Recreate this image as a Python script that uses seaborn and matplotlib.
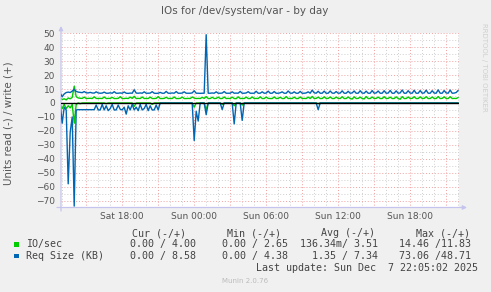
import numpy as np
import pandas as pd
import matplotlib
matplotlib.use("Agg")
import matplotlib.pyplot as plt
from matplotlib.patches import Rectangle
from matplotlib.ticker import FixedLocator, FixedFormatter
import seaborn as sns

# ---------------- data (10-minute samples, hours since Sat 00:00) ----------------
start_hour = 12 + 50 / 60.0        # Sat 12:50
step_hour = 10 / 60.0

io_write = [
    3.5, 2.5, 3.0, 2.2, 3.6, 3.0, 4.0, 12.0, 4.5, 3.6, 3.4, 3.3, 4.2, 3.2, 3.3, 3.4, 3.2, 4.4, 3.3, 3.2,
    3.3, 3.2, 4.3, 3.2, 3.3, 3.3, 4.0, 3.2, 3.2, 3.3, 4.5, 3.2, 3.2, 3.4, 3.2, 4.2, 3.3, 4.8, 3.2, 3.3,
    3.2, 4.3, 3.2, 3.3, 3.2, 4.2, 3.2, 3.2, 3.3, 4.6, 3.2, 3.2, 3.3, 4.1, 3.2, 3.3, 3.2, 4.3, 3.2, 3.2,
    3.3, 4.2, 3.2, 3.2, 3.3, 3.2, 4.3, 3.5, 3.2, 3.3, 3.2, 4.0, 3.3, 4.6, 3.2, 3.2, 4.1, 3.2, 3.3, 4.2,
    3.2, 3.2, 4.3, 3.2, 3.3, 3.2, 4.2, 3.2, 3.1, 4.4, 3.2, 3.3, 3.2, 4.2, 3.2, 3.2, 4.3, 3.2, 3.3, 3.2,
    4.4, 3.2, 3.2, 4.2, 3.3, 3.2, 3.2, 4.3, 3.2, 3.3, 4.1, 3.2, 3.2, 4.6, 3.2, 3.3, 3.2, 4.2, 3.2, 3.2,
    4.3, 3.2, 3.3, 3.2, 4.2, 3.2, 4.7, 3.2, 3.3, 4.2, 3.2, 3.2, 4.4, 3.2, 3.3, 4.3, 3.2, 3.2, 4.2, 3.3,
    3.2, 4.5, 3.2, 3.2, 4.3, 3.2, 2.8, 4.4, 3.2, 3.3, 4.2, 3.2, 2.9, 4.6, 3.2, 3.2, 4.3, 3.2, 3.3, 4.2,
    3.2, 3.2, 4.5, 3.2, 3.3, 4.2, 3.2, 3.2, 4.4, 3.2, 2.7, 4.6, 3.2, 3.2, 4.3, 3.2, 3.3, 4.5, 3.2, 3.2,
    4.4, 3.2, 3.3, 4.5, 3.2, 3.2, 4.3, 3.2, 3.2, 4.6, 3.2, 3.3, 4.4, 3.2, 3.2, 4.5, 3.2, 3.3, 3.2, 3.9,
]

io_read = [
    -1.0, -4.0, -1.0, -4.0, -2.0, -3.5, -1.0, -14.5, -1.0, 0, -0.5, 0, 0, 0, 0, 0, 0, 0, 0, 0,
    0, 0, 0, -0.5, 0, 0, 0, 0, 0, 0, 0, 0, 0, 0, 0, 0, 0, -2.5, 0, 0,
    0, 0, 0, 0, 0, 0, -1.0, 0, 0, 0, 0, 0, 0, 0, 0, 0, 0, 0, 0, 0,
    0, 0, 0, 0, 0, 0, 0, -3.0, 0, 0, 0, 0, 0, -5.0, 0, 0, 0, 0, 0, 0,
    0, -1.0, 0, 0, 0, 0, 0, -2.0, 0, 0, 0, -1.5, 0, 0, 0, 0, 0, 0, 0, 0,
    0, 0, 0, 0, 0, 0, 0, 0, 0, 0, 0, 0, 0, 0, 0, 0, 0, 0, 0, 0,
    0, 0, 0, 0, 0, 0, 0, 0, 0, -0.5, 0, 0, 0, 0, 0, 0, 0, 0, 0, 0,
    0, 0, 0, 0, 0, 0, 0, 0, 0, 0, 0, 0, 0, 0, 0, 0, 0, 0, 0, 0,
    0, 0, 0, 0, 0, 0, 0, 0, 0, 0, 0, 0, 0, 0, 0, 0, 0, 0, 0, 0,
    0, 0, 0, 0, 0, 0, 0, 0, 0, 0, 0, 0, 0, 0, 0, 0, 0, 0, 0, 0,
]

req_write = [
    7.0, 4.5, 6.5, 7.5, 7.8, 7.5, 8.5, 9.8, 8.3, 7.8, 7.6, 7.4, 8.2, 7.3, 7.2, 7.6, 7.2, 7.1, 8.0, 7.2,
    7.0, 7.1, 7.8, 7.0, 7.0, 7.3, 7.0, 8.1, 7.0, 7.0, 7.2, 7.0, 7.9, 7.0, 6.9, 7.1, 7.0, 9.5, 7.1, 7.0,
    7.2, 7.0, 8.0, 7.0, 7.0, 7.1, 8.1, 7.0, 6.9, 7.0, 7.6, 7.0, 7.0, 8.3, 7.0, 7.0, 7.2, 7.0, 8.2, 7.0,
    7.0, 7.1, 8.0, 7.0, 7.0, 7.0, 7.2, 8.8, 7.0, 7.0, 6.9, 7.0, 7.0, 49.0, 7.0, 7.0, 7.2, 7.0, 8.0, 7.0,
    7.0, 7.1, 8.2, 7.0, 7.0, 7.0, 8.0, 7.0, 7.1, 7.0, 8.3, 7.0, 7.0, 7.2, 8.1, 7.0, 7.0, 7.0, 8.4, 7.0,
    7.0, 8.0, 7.0, 7.1, 8.5, 7.0, 7.0, 8.2, 7.0, 7.0, 7.3, 8.0, 7.0, 7.0, 8.6, 7.1, 7.0, 8.0, 7.0, 7.0,
    8.3, 7.0, 7.0, 7.2, 8.0, 7.0, 9.2, 7.3, 7.0, 8.4, 7.0, 7.0, 8.5, 7.0, 7.0, 8.6, 7.1, 7.0, 8.2, 7.0,
    7.1, 8.7, 7.0, 7.0, 8.4, 7.0, 7.2, 8.6, 7.0, 7.0, 8.8, 7.1, 7.0, 8.5, 7.0, 7.0, 8.9, 7.0, 7.2, 8.6,
    7.0, 7.0, 8.8, 7.0, 7.1, 9.0, 7.0, 7.0, 8.7, 7.0, 7.2, 9.3, 7.0, 7.0, 8.8, 7.1, 7.0, 9.1, 7.0, 7.0,
    8.9, 7.0, 7.2, 9.2, 7.0, 7.0, 8.8, 7.1, 7.0, 9.4, 7.0, 7.0, 8.9, 7.2, 7.0, 9.3, 7.0, 7.1, 7.5, 9.0,
]

req_read = [
    -1.0, -14.5, -3.0, -5.0, -58.0, -21.0, -10.0, -74.0, -5.0, -4.8, -4.8, -4.8, -4.8, -4.8, -4.8, -4.8, -4.8, -4.8, -1.5, -5.0,
    -5.0, -1.0, -5.0, -2.0, -5.5, -4.0, -1.0, -5.0, -5.0, -1.5, -4.5, -5.0, -3.0, -8.0, -2.0, -5.0, -1.0, -5.0, -3.0, -5.5,
    -1.0, -5.0, -4.0, -1.0, -5.5, -2.0, -5.0, -5.0, -1.5, -5.0, 0, 0, 0, 0, 0, 0, 0, 0, 0, 0,
    0, 0, 0, 0, 0, 0, 0, -27.0, -6.0, -13.0, 0, 0, 0, -8.4, 0, 0, 0, 0, 0, 0,
    0, -4.7, 0, 0, 0, 0, 0, -15.0, 0, 0, 0, -12.5, 0, 0, 0, 0, 0, 0, 0, 0,
    0, 0, 0, 0, 0, 0, 0, 0, 0, 0, 0, 0, 0, 0, 0, 0, 0, 0, 0, 0,
    0, 0, 0, 0, 0, 0, 0, 0, 0, -4.8, 0, 0, 0, 0, 0, 0, 0, 0, 0, 0,
    0, 0, 0, 0, 0, 0, 0, 0, 0, 0, 0, 0, 0, 0, 0, 0, 0, 0, 0, 0,
    0, 0, 0, 0, 0, 0, 0, 0, 0, 0, 0, 0, 0, 0, 0, 0, 0, 0, 0, 0,
    0, 0, 0, 0, 0, 0, 0, 0, 0, 0, 0, 0, 0, 0, 0, 0, 0, 0, 0, 0,
]

x_tick_hours = [18, 24, 30, 36, 42]
x_tick_labels = ["Sat 18:00", "Sun 00:00", "Sun 06:00", "Sun 12:00", "Sun 18:00"]
y_ticks = [-70, -60, -50, -40, -30, -20, -10, 0, 10, 20, 30, 40, 50]

series_names = ["IO/sec", "Req Size (KB)"]
legend_cur = ["0.00 / 4.00", "0.00 / 8.58"]
legend_min = ["0.00 / 2.65", "0.00 / 4.38"]
legend_avg = ["136.34m/ 3.51", "1.35 / 7.34"]
legend_max = ["14.46 /11.83", "73.06 /48.71"]

GREEN = "#00CC00"
BLUE = "#0066B3"

hours = start_hour + step_hour * np.arange(len(io_write))
df = pd.DataFrame({
    "hour": hours,
    "io_write": io_write, "io_read": io_read,
    "req_write": req_write, "req_read": req_read,
})

# ---------------- figure ----------------
sns.set_style("white")
plt.rcParams["font.family"] = ["DejaVu Sans"]

W, H = 491, 292
fig = plt.figure(figsize=(W / 100, H / 100), dpi=100)
fig.patch.set_facecolor("#F0F0F0")

ax_left, ax_right, ax_top, ax_bottom = 61, 459, 33.3, 207.5
ax = fig.add_axes([ax_left / W, 1 - ax_bottom / H, (ax_right - ax_left) / W, (ax_bottom - ax_top) / H])
ax.set_facecolor("white")

# grid
ax.set_xlim(12.9, 46.07)
ax.set_ylim(-75, 50)
ax.xaxis.set_major_locator(FixedLocator(list(range(15, 46, 3))))
ax.xaxis.set_minor_locator(FixedLocator(list(range(13, 47))))
major_lbls = [x_tick_labels[x_tick_hours.index(h)] if h in x_tick_hours else "" for h in range(15, 46, 3)]
ax.xaxis.set_major_formatter(FixedFormatter(major_lbls))
ax.yaxis.set_major_locator(FixedLocator(y_ticks))
ax.yaxis.set_minor_locator(FixedLocator(list(range(-75, 51, 5))))
ax.grid(which="major", color="#F2A0A0", linestyle=(0, (1, 2)), linewidth=0.7)
ax.grid(which="minor", color="#CFCFCF", linestyle=(0, (1, 2)), linewidth=0.7)
ax.set_axisbelow(True)

# series
sns.lineplot(data=df, x="hour", y="io_read", color=GREEN, lw=1.0, ax=ax, estimator=None, sort=False, zorder=3)
sns.lineplot(data=df, x="hour", y="io_write", color=GREEN, lw=1.0, ax=ax, estimator=None, sort=False, zorder=3)
sns.lineplot(data=df, x="hour", y="req_read", color=BLUE, lw=1.0, ax=ax, estimator=None, sort=False, zorder=4)
sns.lineplot(data=df, x="hour", y="req_write", color=BLUE, lw=1.0, ax=ax, estimator=None, sort=False, zorder=4)

ax.axhline(0, color="black", lw=1.0, zorder=5)

ax.set_xlabel("")
ax.set_ylabel("")
for s in ax.spines.values():
    s.set_visible(False)
ax.tick_params(axis="both", which="both", length=0, colors="#555555", labelsize=6.5)
ax.tick_params(axis="y", pad=4.3)
ax.tick_params(axis="x", pad=3)

# axes with arrows
AX_COL = "#C4C4EE"
ax.annotate("", xy=(ax_left, H - 26), xytext=(ax_left, H - 211), xycoords="figure pixels",
            textcoords="figure pixels",
            arrowprops=dict(arrowstyle="-|>", color=AX_COL, lw=0.9, mutation_scale=6, shrinkA=0, shrinkB=0))
ax.annotate("", xy=(467, H - ax_bottom), xytext=(57, H - ax_bottom), xycoords="figure pixels",
            textcoords="figure pixels",
            arrowprops=dict(arrowstyle="-|>", color=AX_COL, lw=0.9, mutation_scale=6, shrinkA=0, shrinkB=0))


def fx(x):
    return x / W


def fy(y):
    return 1 - y / H


TXT = "#555555"
fig.text(fx(245), fy(11.5), "IOs for /dev/system/var - by day", ha="center", va="center",
         fontsize=7.5, color=TXT)
fig.text(fx(8.7), fy(123.5), "Units read (-) / write (+)", rotation=90, ha="center", va="center",
         fontsize=7.4, color=TXT)
fig.text(fx(484), fy(67), "RRDTOOL / TOBI OETIKER", rotation=270, ha="center", va="center",
         fontsize=5.0, color="#CFCFCF")

# legend block
MONO = "DejaVu Sans Mono"
LEG = "#444444"
fs = 7.2
hdr_y = 233.3
row_y = [244.3, 256.0]
headers = ["Cur (-/+)", "Min (-/+)", "Avg (-/+)", "Max (-/+)"]
hdr_right = [186, 281, 375, 470]
col_right = [196, 288.3, 378.3, 470.7]
for h, xr in zip(headers, hdr_right):
    fig.text(fx(xr), fy(hdr_y), h, ha="right", va="center", fontsize=fs, family=MONO, color=LEG)

colors = [GREEN, BLUE]
for i in range(2):
    y = row_y[i]
    fig.patches.append(Rectangle((fx(14), fy(y + 2.4)), 4.8 / W, 4.8 / H, transform=fig.transFigure,
                                 facecolor=colors[i], edgecolor="none"))
    fig.text(fx(26), fy(y), series_names[i], ha="left", va="center", fontsize=fs, family=MONO, color=LEG)
    vals = [legend_cur[i], legend_min[i], legend_avg[i], legend_max[i]]
    for v, xr in zip(vals, col_right):
        fig.text(fx(xr), fy(y), v, ha="right", va="center", fontsize=fs, family=MONO, color=LEG)

fig.text(fx(477.5), fy(268.3), "Last update: Sun Dec  7 22:05:02 2025", ha="right", va="center",
         fontsize=fs, family=MONO, color=LEG)
fig.text(fx(245), fy(281), "Munin 2.0.76", ha="center", va="center", fontsize=5.0, color="#BBBBBB")

fig.savefig("out.png", dpi=100, facecolor=fig.get_facecolor())
